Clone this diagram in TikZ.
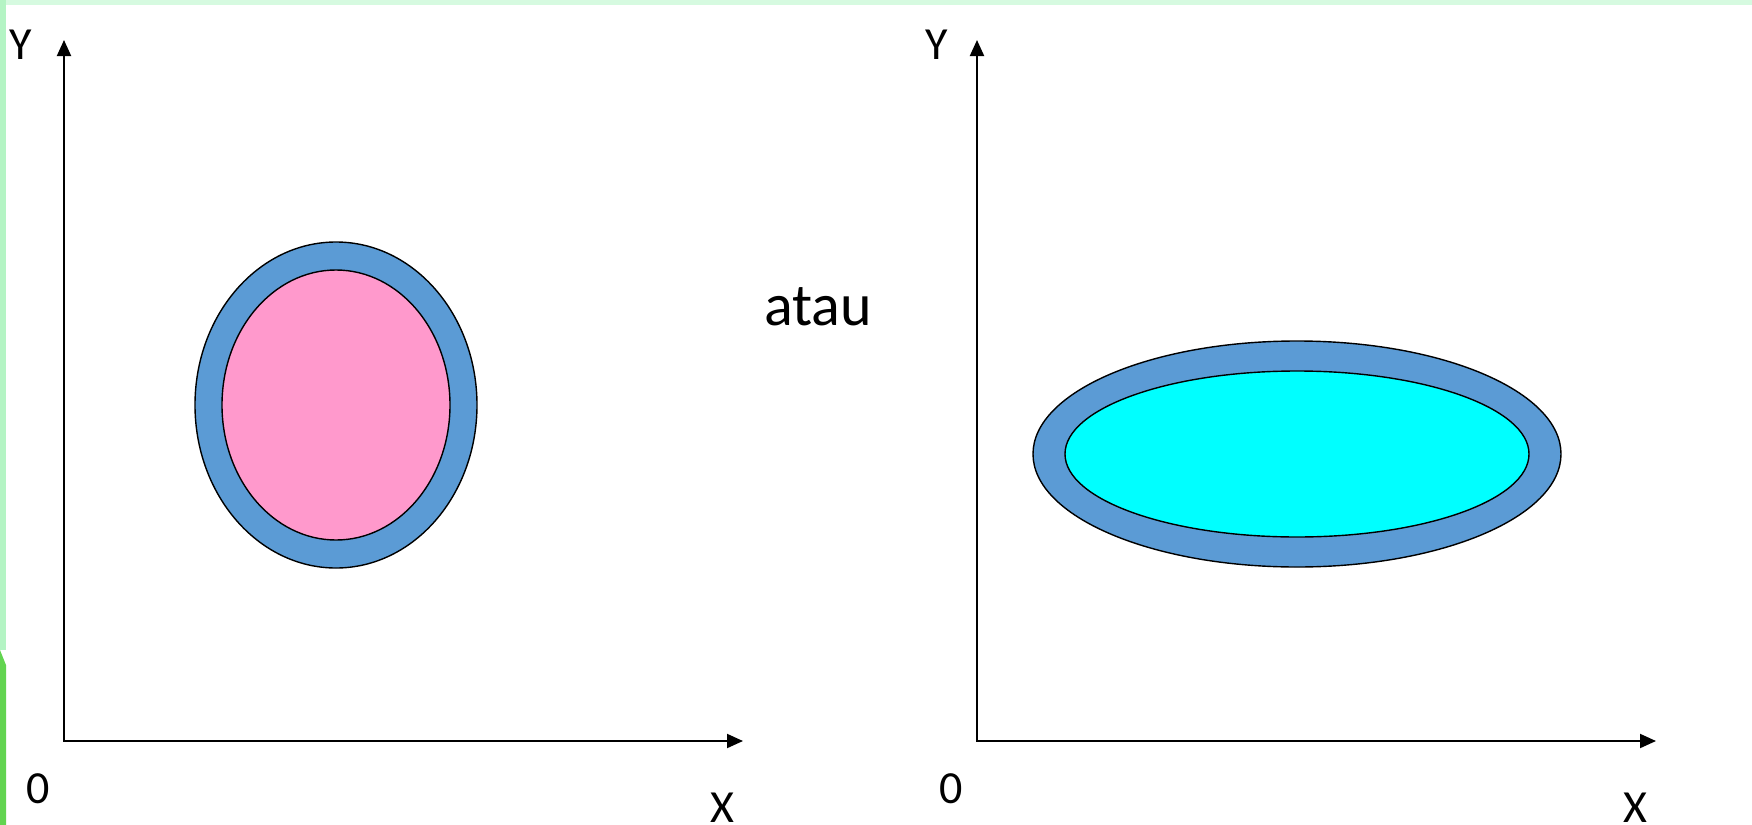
\documentclass[tikz,border=0pt]{standalone}
\usepackage{fontspec}
\setmainfont{Carlito}
\usepackage{tikz}
\usetikzlibrary{arrows.meta,positioning,shapes.geometric}
\definecolor{ringblue}{RGB}{91,155,213}
\definecolor{pinkfill}{RGB}{255,153,204}
\definecolor{cyanfill}{RGB}{0,255,255}
\definecolor{edgegreen}{RGB}{214,250,224}
\definecolor{edgegreen2}{RGB}{180,244,196}
\definecolor{darkgreen}{RGB}{98,212,80}
\tikzset{
  axis/.style={line width=1pt, {Triangle[length=8pt,width=7pt]}-{Triangle[length=8pt,width=7pt]}},
  ring/.style={ellipse, draw=black, line width=0.7pt, fill=ringblue, inner sep=0pt},
  core/.style={ellipse, draw=black, line width=0.7pt, inner sep=0pt},
  lbl/.style={font=\fontsize{23}{26}\selectfont, inner sep=0pt}
}

\begin{document}
\begin{tikzpicture}[x=0.5pt, y=-0.5pt]
\useasboundingbox (0,0) rectangle (1752,825);
\fill[white] (0,0) rectangle (1752,825);
% slide edge
\fill[edgegreen] (0,0) rectangle (1752,5);
\fill[edgegreen2] (0,0) rectangle (6,650);
\fill[darkgreen] (0,650) -- (6,665) -- (6,825) -- (0,825) -- cycle;

% left axes
\coordinate (o1) at (64,741);
\coordinate (y1) at (64,40);
\coordinate (x1) at (743,741);
\draw[axis] (y1) |- (x1);
\node[lbl] (ly1) at (21,45) {Y};
\node[lbl] (lo1) at (38,789) {0};
\node[lbl] (lx1) at (722,808) {X};

% right axes
\coordinate (o2) at (977,741);
\coordinate (y2) at (977,40);
\coordinate (x2) at (1656,741);
\draw[axis] (y2) |- (x2);
\node[lbl] (ly2) at (937,45) {Y};
\node[lbl] (lo2) at (951,789) {0};
\node[lbl] (lx2) at (1635,808) {X};

% circle and flattened ellipse
\node[ring, minimum width=141pt, minimum height=163pt] (outer1) at (336,405) {};
\node[core, fill=pinkfill, minimum width=114pt, minimum height=135pt] (inner1) at (outer1.center) {};
\node[ring, minimum width=264pt, minimum height=113pt] (outer2) at (1297,454) {};
\node[core, fill=cyanfill, minimum width=232pt, minimum height=83pt] (inner2) at (outer2.center) {};

\node[font=\fontsize{30}{34}\selectfont, inner sep=0pt] (atau) at (818,307) {atau};
\end{tikzpicture}
\end{document}
